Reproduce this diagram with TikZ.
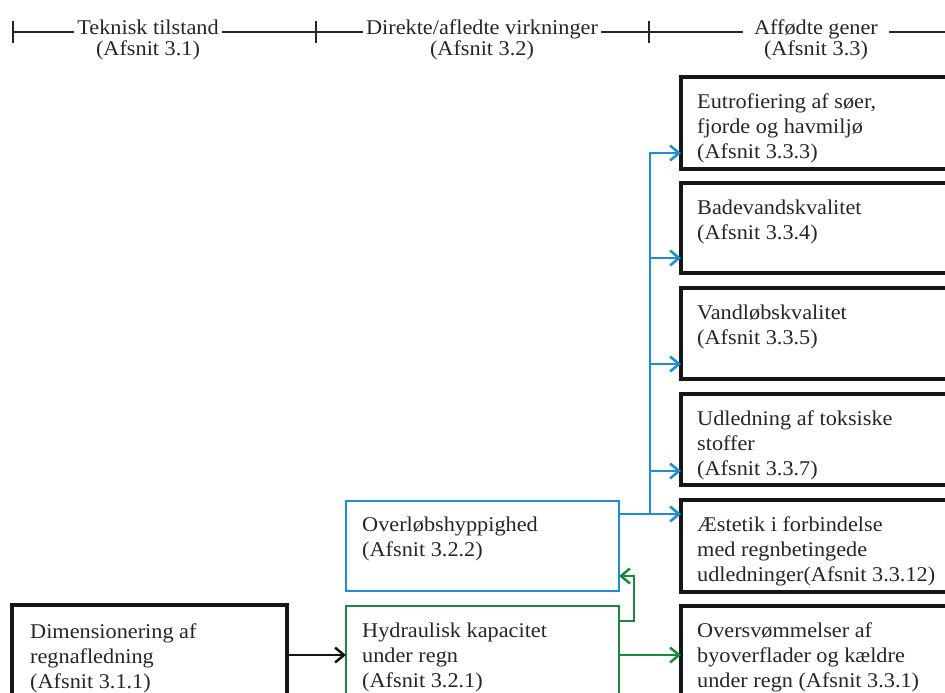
\documentclass[tikz,border=0pt]{standalone}
\usepackage{fontspec}
\setmainfont{Liberation Serif}[FakeStretch=1.06]
\usetikzlibrary{arrows.meta}
\definecolor{flowblue}{RGB}{28,142,214}
\definecolor{flowgreen}{RGB}{24,138,60}
\definecolor{inkgray}{RGB}{38,38,38}
\definecolor{framegray}{RGB}{22,22,22}

\begin{document}
\begin{tikzpicture}[x=1pt,y=-1pt,
  every node/.style={font=\fontsize{21}{25}\selectfont},
  % multi-line labels are anchored at the baseline of their last line
  label text/.style={align=left, anchor=base west, inner sep=0pt, text=inkgray},
  head text/.style={align=center, anchor=base, inner xsep=3pt, inner ysep=0pt,
                    text=inkgray, font=\fontsize{21}{20.5}\selectfont},
  panel/.style={rectangle, anchor=north west, outer sep=0pt, inner sep=0pt},
  genbox/.style={panel, draw=framegray, line width=3.2pt, minimum width=290},
  techbox/.style={panel, draw=framegray, line width=4.5pt},
  bluebox/.style={panel, draw=flowblue, line width=2.6pt},
  greenbox/.style={panel, draw=flowgreen, line width=2.6pt},
  rule/.style={line width=1.8pt, draw=inkgray},
  flow/.style={line width=2.5pt, -{Straight Barb[length=9pt,width=15pt]}},
  blueflow/.style={flow, draw=flowblue},
  greenflow/.style={flow, draw=flowgreen},
  blackflow/.style={flow, draw=framegray}
]
\useasboundingbox (0,0) rectangle (945,693);
\clip (0,0) rectangle (945,693);
\fill[white] (0,0) rectangle (945,693);

% ---- column headings ----
\coordinate (t1) at (13,32);
\coordinate (t2) at (316,32);
\coordinate (t3) at (649,32);
\coordinate (tend) at (950,32);
\node[head text] (h1) at (148,55.5) {Teknisk tilstand\\(Afsnit 3.1)};
\node[head text] (h2) at (482,55.5) {Direkte/afledte virkninger\\(Afsnit 3.2)};
\node[head text, inner xsep=11pt] (h3) at (816,55.5) {Affødte gener\\(Afsnit 3.3)};
\draw[rule] (t1) -- (h1.west |- t1);
\draw[rule] (h1.east |- t1) -- (t2) -- (h2.west |- t2);
\draw[rule] (h2.east |- t2) -- (t3) -- (h3.west |- t3);
\draw[rule] (h3.east |- t3) -- (tend);
\foreach \t in {t1,t2,t3}
  \draw[rule] ([yshift=11pt]\t) -- ([yshift=-11pt]\t);

% ---- consequence boxes (right column) ----
\node[genbox, minimum height=92] (g1) at (681,77) {};
\node[genbox, minimum height=90] (g2) at (681,183) {};
\node[genbox, minimum height=91] (g3) at (681,288) {};
\node[genbox, minimum height=91] (g4) at (681,394) {};
\node[genbox, minimum height=92] (g5) at (681,500) {};
\node[genbox, minimum height=98] (g6) at (681,606) {};

\node[label text] (g1t) at ([xshift=16pt,yshift=-81pt]g1.north west)
  {Eutrofiering af søer,\\fjorde og havmiljø\\(Afsnit 3.3.3)};
\node[label text] (g2t) at ([xshift=16pt,yshift=-56pt]g2.north west)
  {Badevandskvalitet\\(Afsnit 3.3.4)};
\node[label text] (g3t) at ([xshift=16pt,yshift=-56pt]g3.north west)
  {Vandløbskvalitet\\(Afsnit 3.3.5)};
\node[label text] (g4t) at ([xshift=16pt,yshift=-81pt]g4.north west)
  {Udledning af toksiske\\stoffer\\(Afsnit 3.3.7)};
\node[label text] (g5t) at ([xshift=16pt,yshift=-81pt]g5.north west)
  {Æstetik i forbindelse\\med regnbetingede\\udledninger(Afsnit 3.3.12)};
\node[label text] (g6t) at ([xshift=16pt,yshift=-81pt]g6.north west)
  {Oversvømmelser af\\byoverflader og kældre\\under regn (Afsnit 3.3.1)};

% ---- direct effects (middle column) ----
\node[bluebox, minimum width=273, minimum height=90] (ovl) at (346,501) {};
\node[greenbox, minimum width=273, minimum height=98] (hyd) at (346,606) {};
\node[label text] (ovlt) at ([xshift=16pt,yshift=-55pt]ovl.north west)
  {Overløbshyppighed\\(Afsnit 3.2.2)};
\node[label text] (hydt) at ([xshift=16pt,yshift=-81pt]hyd.north west)
  {Hydraulisk kapacitet\\under regn\\(Afsnit 3.2.1)};

% ---- technical state (left column) ----
\node[techbox, minimum width=275, minimum height=100] (dim) at (12,605) {};
\node[label text] (dimt) at ([xshift=18pt,yshift=-83pt]dim.north west)
  {Dimensionering af\\regnafledning\\(Afsnit 3.1.1)};

% ---- connectors ----
\draw[blackflow] (dim.east) -- (hyd.west);
\draw[greenflow] (hyd.east) -- (g6.west);
\draw[greenflow] ([yshift=-15pt]hyd.north east) -- ++(15,0)
  |- ([yshift=15pt]ovl.south east);

\coordinate (bj) at (650,514);
\draw[blueflow] ([yshift=-13pt]ovl.north east) -- (g5.west |- bj);
\draw[blueflow] (bj) |- ([yshift=14pt]g4.south west);
\draw[blueflow] (bj) |- ([yshift=15pt]g3.south west);
\draw[blueflow] (bj) |- ([yshift=15pt]g2.south west);
\draw[blueflow] (bj) |- ([yshift=16pt]g1.south west);
\end{tikzpicture}
\end{document}
